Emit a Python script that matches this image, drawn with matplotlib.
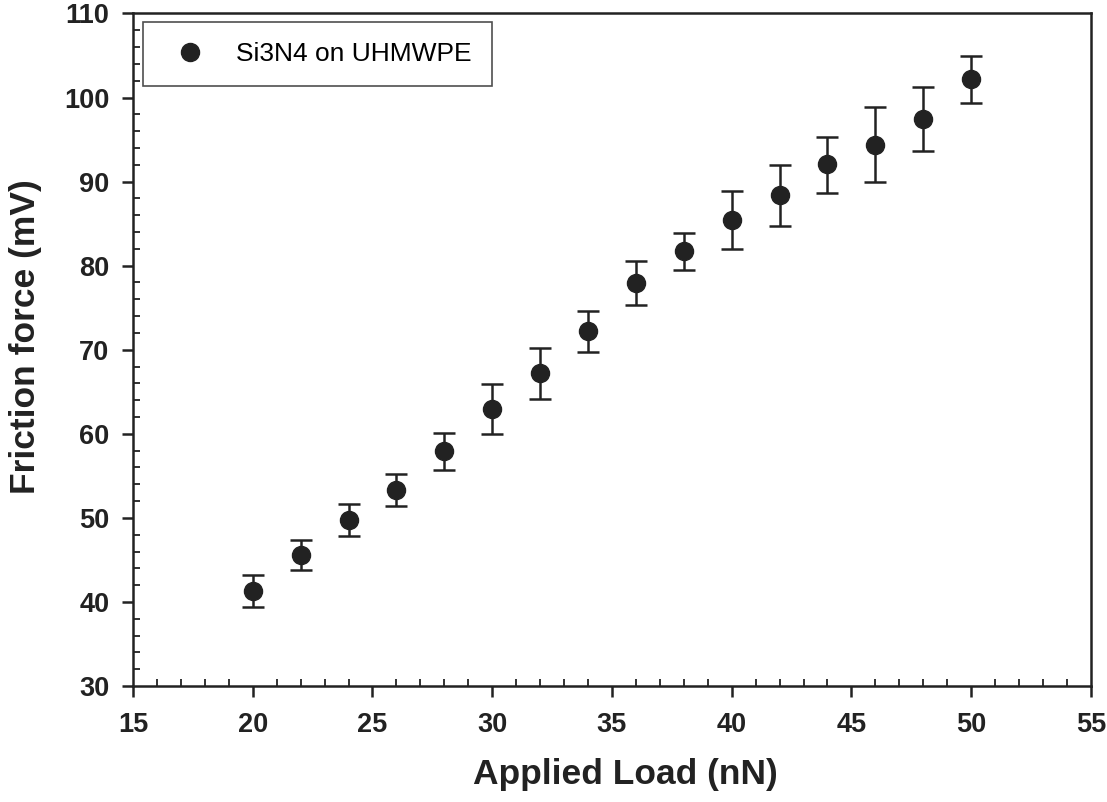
import matplotlib
matplotlib.use("Agg")
import matplotlib.pyplot as plt
from matplotlib.ticker import MultipleLocator

load = [20, 22, 24, 26, 28, 30, 32, 34, 36, 38, 40, 42, 44, 46, 48, 50]
friction = [41.3, 45.6, 49.8, 53.3, 57.9, 62.9, 67.2, 72.2, 77.9, 81.7, 85.4, 88.4, 92.1, 94.4, 97.5, 102.2]
err_up = [1.9, 1.8, 1.8, 1.9, 2.2, 3.0, 3.0, 2.4, 2.7, 2.2, 3.5, 3.6, 3.2, 4.5, 3.7, 2.7]
err_dn = [1.9, 1.8, 1.9, 1.9, 2.2, 2.9, 3.0, 2.5, 2.6, 2.2, 3.4, 3.7, 3.4, 4.5, 3.8, 2.9]
series_label = "Si3N4 on UHMWPE"

plt.rcParams['font.family'] = ['Liberation Sans', 'DejaVu Sans']
col = '#222222'

fig = plt.figure(figsize=(11.07, 8.02), dpi=100)
ax = fig.add_axes([0.1201, 0.1446, 0.8654, 0.8386])

cont = ax.errorbar(load, friction, yerr=[err_dn, err_up], fmt='o', color=col,
                   markersize=13, capsize=8, elinewidth=1.8, capthick=1.8,
                   label=series_label)

ax.set_xlim(15, 55)
ax.set_ylim(30, 110)
ax.xaxis.set_major_locator(MultipleLocator(5))
ax.xaxis.set_minor_locator(MultipleLocator(1))
ax.yaxis.set_major_locator(MultipleLocator(10))
ax.yaxis.set_minor_locator(MultipleLocator(2))
ax.tick_params(which='major', direction='out', length=8, width=1.8, color=col,
               labelsize=19.5, labelcolor=col)
ax.tick_params(axis='y', which='major', pad=9)
ax.tick_params(axis='x', which='major', pad=11)
ax.tick_params(which='minor', direction='in', length=5, width=1.3, color=col)
for lbl in ax.get_xticklabels() + ax.get_yticklabels():
    lbl.set_fontweight('bold')
for s in ax.spines.values():
    s.set_linewidth(1.8)
    s.set_color(col)

ax.set_xlabel("Applied Load (nN)", fontsize=25.5, fontweight='bold', color=col, va='center')
ax.xaxis.set_label_coords(0.514, -0.132)
ax.set_ylabel("Friction force (mV)", fontsize=25.5, fontweight='bold', color=col, va='center')
ax.yaxis.set_label_coords(-0.1117, 0.52)

leg = ax.legend(handles=[cont[0]], labels=[series_label], loc='upper left',
                bbox_to_anchor=(0.0104, 0.987), fontsize=19,
                frameon=True, fancybox=False, edgecolor=col, borderpad=0.76,
                handletextpad=0.72, handlelength=2.05, borderaxespad=0.0)
leg.get_frame().set_linewidth(1.2)

fig.savefig("out.png", dpi=100)
